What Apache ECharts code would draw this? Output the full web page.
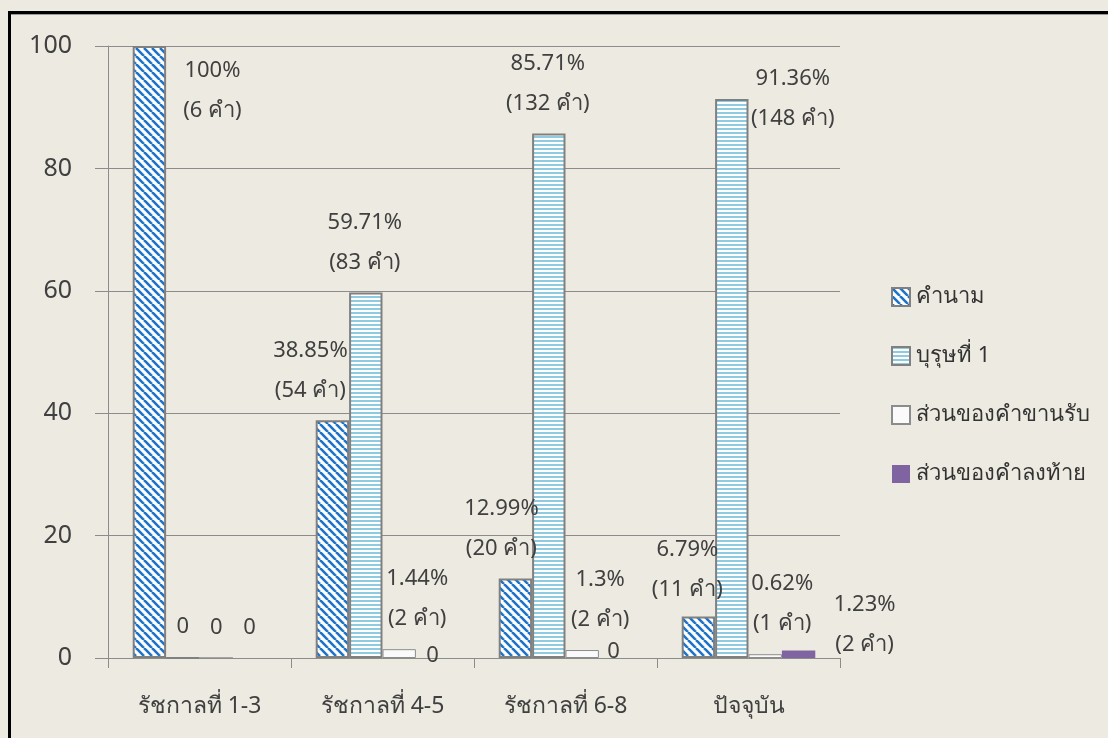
<!DOCTYPE html>
<html>
<head>
<meta charset="utf-8">
<script src="https://cdn.jsdelivr.net/npm/echarts@6/dist/echarts.min.js"></script>
<style>
  html, body { margin: 0; padding: 0; background: #EDEBE1; width: 1108px; height: 738px; overflow: hidden; }
  #frame { position: absolute; left: 8px; top: 11px; width: 1200px; height: 800px;
           border-left: 3px solid #000; border-top: 3px solid #000; box-shadow: inset 0 1px 0 #9a9a9a; }
  #chart { position: absolute; left: 0; top: 0; width: 1108px; height: 738px; }
</style>
</head>
<body>
<div id="frame"></div>
<div id="chart"></div>
<script>
// Periods and word classes
const categories = ['รัชกาลที่ 1-3', 'รัชกาลที่ 4-5', 'รัชกาลที่ 6-8', 'ปัจจุบัน'];
const seriesNames = ['คำนาม', 'บุรุษที่ 1', 'ส่วนของคำขานรับ', 'ส่วนของคำลงท้าย'];

// Percentages per series
const nounPct     = [100, 38.85, 12.99, 6.79];
const firstPerPct = [0, 59.71, 85.71, 91.36];
const responsePct = [0, 1.44, 1.3, 0.62];
const endingPct   = [0, 0, 0, 1.23];

// Word counts per series
const nounCount     = [6, 54, 20, 11];
const firstPerCount = [0, 83, 132, 148];
const responseCount = [0, 2, 2, 1];
const endingCount   = [0, 0, 0, 2];

const yTicks = { min: 0, max: 100, interval: 20 };

// Label nudges (px) relative to the top-centre of each bar
const labelOffsets = [
  [[63, 45], [-22, -50], [-14, -50], [-11, -47]],
  [[0, -30], [-1, -50], [-1, -50], [61, 0]],
  [[0, -30], [18, -50], [18, -50], [17, -50]],
  [[0, -30], [0, -2], [-2, -6], [66, -26]]
];

// Fill patterns
function diagPattern() {
  const s = 8, c = document.createElement('canvas');
  c.width = s; c.height = s;
  const g = c.getContext('2d');
  g.fillStyle = '#ffffff'; g.fillRect(0, 0, s, s);
  g.strokeStyle = '#1E73C8'; g.lineWidth = 2.6;
  for (let k = -1; k <= 1; k++) {
    g.beginPath(); g.moveTo(k * s, 0); g.lineTo(k * s + s, s); g.stroke();
  }
  return { image: c, repeat: 'repeat' };
}
function stripePattern() {
  const s = 4, c = document.createElement('canvas');
  c.width = s; c.height = s;
  const g = c.getContext('2d');
  g.fillStyle = '#ffffff'; g.fillRect(0, 0, s, s);
  g.fillStyle = '#8FCBE0'; g.fillRect(0, 0, s, 2);
  return { image: c, repeat: 'repeat' };
}

const textColor = '#404040';
const fontFamily = "Tahoma, 'Noto Sans', 'DejaVu Sans', sans-serif";

function buildData(pct, count, offs) {
  return pct.map((v, i) => ({
    value: v,
    label: {
      formatter: v === 0 ? '0' : v + '%\n(' + count[i] + ' คำ)',
      offset: offs[i]
    }
  }));
}

const baseLabel = {
  show: true, position: 'top', distance: 0,
  align: 'center', verticalAlign: 'middle',
  color: textColor, fontSize: 22, lineHeight: 40, fontFamily: fontFamily
};

const styles = [
  { color: diagPattern(), borderColor: '#808080', borderWidth: 2 },
  { color: stripePattern(), borderColor: '#808080', borderWidth: 2 },
  { color: '#FAFAFA', borderColor: '#8C8C8C', borderWidth: 1 },
  { color: '#8064A2', borderWidth: 0 }
];
const pcts = [nounPct, firstPerPct, responsePct, endingPct];
const counts = [nounCount, firstPerCount, responseCount, endingCount];

const series = seriesNames.map((name, k) => ({
  name: name,
  type: 'bar',
  barGap: '0%',
  barCategoryGap: '27%',
  itemStyle: styles[k],
  label: baseLabel,
  data: buildData(pcts[k], counts[k], labelOffsets[k])
}));

const chart = echarts.init(document.getElementById('chart'), null, { renderer: 'canvas' });
chart.setOption({
  backgroundColor: 'transparent',
  animation: false,
  textStyle: { fontFamily: fontFamily },
  grid: { left: 108, right: 268, top: 46, bottom: 80, containLabel: false },
  legend: {
    orient: 'vertical', left: 886, top: 281,
    itemWidth: 18, itemHeight: 18, itemGap: 37,
    icon: 'rect',
    textStyle: { color: '#333', fontSize: 22, lineHeight: 20, fontFamily: fontFamily, padding: [0, 0, 0, 1] },
    data: seriesNames
  },
  xAxis: {
    type: 'category',
    data: categories,
    axisLine: { lineStyle: { color: '#8C8C8C', width: 1 } },
    axisTick: { show: true, length: 10, alignWithLabel: false, lineStyle: { color: '#8C8C8C' } },
    axisLabel: { color: textColor, fontSize: 23, margin: 37, fontFamily: fontFamily }
  },
  yAxis: {
    type: 'value',
    min: yTicks.min, max: yTicks.max, interval: yTicks.interval,
    axisLine: { show: true, lineStyle: { color: '#8C8C8C', width: 1 } },
    axisTick: { show: true, length: 13, lineStyle: { color: '#8C8C8C' } },
    splitLine: { lineStyle: { color: '#8C8C8C', width: 1 } },
    axisLabel: { color: textColor, fontSize: 25, margin: 36, fontFamily: fontFamily }
  },
  series: series
});
</script>
</body>
</html>
